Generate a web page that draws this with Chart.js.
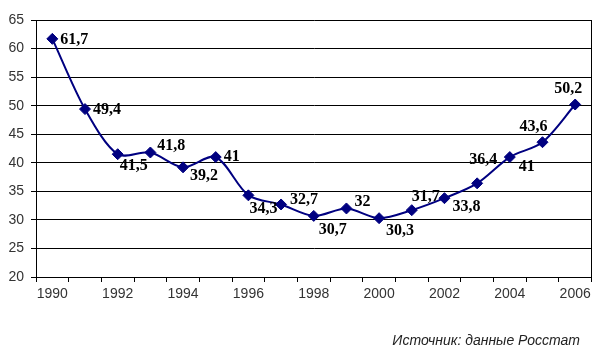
<!DOCTYPE html>
<html>
<head>
<meta charset="utf-8">
<script src="https://cdn.jsdelivr.net/npm/chart.js@4"></script>
<style>
  html, body { margin: 0; padding: 0; background: #fff; }
  #wrap { width: 598px; height: 357px; position: relative; }
</style>
</head>
<body>
<div id="wrap"><canvas id="c" width="598" height="357"></canvas></div>
<script>
// ---- data ----
const years = ['1990','1991','1992','1993','1994','1995','1996','1997','1998','1999','2000','2001','2002','2003','2004','2005','2006'];
const values = [61.7, 49.4, 41.5, 41.8, 39.2, 41, 34.3, 32.7, 30.7, 32, 30.3, 31.7, 33.8, 36.4, 41, 43.6, 50.2];
const yTicks = [20, 25, 30, 35, 40, 45, 50, 55, 60, 65];
const sourceText = 'Источник: данные Росстат';

// ---- label placement (style, relative to each point) ----
const labelOffsets = [
  [8, 1], [8, 1], [2, 12], [7, -7], [7, 9], [8, 0], [1, 14], [9, -5], [5, 14],
  [8, -7], [7, 13], [0, -13], [8, 9], [-8, -23], [9, 10], [-23, -15], [-21, -16]
];

const fmt = v => String(v).replace('.', ',');

const labelPlugin = {
  id: 'pointLabels',
  afterDatasetsDraw(chart) {
    const ctx = chart.ctx;
    const meta = chart.getDatasetMeta(0);
    ctx.save();
    ctx.font = 'bold 16px "Liberation Serif"';
    ctx.fillStyle = '#000';
    ctx.textAlign = 'left';
    ctx.textBaseline = 'middle';
    meta.data.forEach((pt, i) => {
      const o = labelOffsets[i];
      ctx.fillText(fmt(values[i]), pt.x + o[0], pt.y + o[1]);
    });
    ctx.restore();
  }
};

const framePlugin = {
  id: 'frame',
  beforeDatasetsDraw(chart) {
    const a = chart.chartArea, ctx = chart.ctx;
    ctx.save();
    ctx.strokeStyle = '#000';
    ctx.lineWidth = 1;
    ctx.beginPath();
    ctx.moveTo(Math.round(a.right) - 0.5, a.top);
    ctx.lineTo(Math.round(a.right) - 0.5, a.bottom);
    ctx.stroke();
    ctx.restore();
  },
  afterDraw(chart) {
    const ctx = chart.ctx;
    ctx.save();
    ctx.font = 'italic 14px "Liberation Sans"';
    ctx.fillStyle = '#222';
    ctx.textAlign = 'right';
    ctx.textBaseline = 'middle';
    ctx.fillText(sourceText, 580, 341);
    ctx.restore();
  }
};

new Chart(document.getElementById('c'), {
  type: 'line',
  data: {
    labels: years,
    datasets: [{
      data: values,
      borderColor: '#000080',
      backgroundColor: '#000080',
      borderWidth: 2,
      tension: 0.3,
      pointStyle: 'rectRot',
      pointRadius: 5.5,
      pointHoverRadius: 5.5,
      pointBackgroundColor: '#000080',
      pointBorderColor: '#000080',
      pointBorderWidth: 1,
      fill: false
    }]
  },
  options: {
    responsive: false,
    animation: false,
    events: [],
    layout: { padding: { left: 0, right: 6, top: 20, bottom: 0 } },
    plugins: { legend: { display: false }, tooltip: { enabled: false } },
    scales: {
      x: {
        type: 'category',
        offset: true,
        afterFit: s => { s.height = 80; },
        grid: { display: true, offset: true, drawOnChartArea: false, drawTicks: true, tickLength: 5, color: '#000', lineWidth: 1 },
        border: { display: true, color: '#000', width: 1 },
        ticks: {
          autoSkip: false,
          maxRotation: 0,
          padding: 4,
          color: '#333',
          font: { family: '"Liberation Sans"', size: 14 },
          callback: (v, i) => (i % 2 === 0 ? years[i] : '')
        }
      },
      y: {
        min: yTicks[0],
        max: yTicks[yTicks.length - 1],
        afterFit: s => { s.width = 36; },
        afterBuildTicks: s => { s.ticks = yTicks.map(v => ({ value: v })); },
        grid: { color: '#000', lineWidth: 1, drawTicks: true, tickLength: 5 },
        border: { display: true, color: '#000', width: 1 },
        ticks: {
          padding: 7,
          color: '#333',
          font: { family: '"Liberation Sans"', size: 14 }
        }
      }
    }
  },
  plugins: [labelPlugin, framePlugin]
});
</script>
</body>
</html>
